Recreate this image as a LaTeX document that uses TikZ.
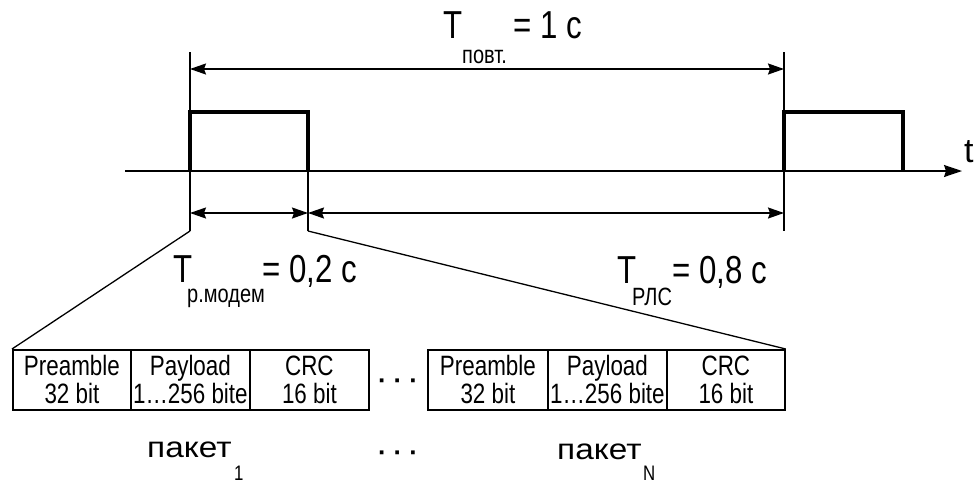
\documentclass[tikz,border=0pt]{standalone}
\usepackage{fontspec}
\setmainfont{Liberation Sans}[FakeStretch=0.8]
\newfontfamily\plainff{Liberation Sans}
\newfontfamily\wideff{Liberation Sans}[FakeStretch=1.15]
\usetikzlibrary{arrows.meta}
\begin{document}
\begin{tikzpicture}[x=1pt,y=-1pt,
  thinl/.style={line width=1.3pt},
  pulse/.style={line width=3.2pt, line join=miter},
  dimarr/.style={line width=1.6pt, {Stealth[length=16pt,width=11pt,inset=2pt]}-{Stealth[length=16pt,width=11pt,inset=2pt]}},
  cell/.style={draw, line width=1.8pt, minimum height=60pt, inner sep=0pt, align=center, font=\fontsize{28}{28}\selectfont, anchor=north west},
  big/.style={inner sep=0pt, anchor=base west, font=\fontsize{39}{40}\selectfont},
  sublab/.style={inner sep=0pt, anchor=base west, font=\fontsize{25}{26}\selectfont},
  pak/.style={inner sep=0pt, anchor=base west, font=\wideff\fontsize{29}{30}\selectfont},
  pakidx/.style={inner sep=0pt, anchor=base west, font=\fontsize{21}{22}\selectfont},
  dotsl/.style={inner sep=0pt, font=\plainff\bfseries\fontsize{26}{26}\selectfont},
]
\useasboundingbox (0,0) rectangle (976,483);

% coordinates
\coordinate (ax0) at (125,171);
\coordinate (ax1) at (962,171);
\coordinate (e1t) at (190,52);
\coordinate (e1b) at (190,231);
\coordinate (e2b) at (308,231);
\coordinate (e3t) at (784,52);
\coordinate (e3b) at (784,231);
\coordinate (p1a) at (190,171);
\coordinate (p1b) at (190,112);
\coordinate (p1c) at (308,112);
\coordinate (p1d) at (308,171);
\coordinate (p2a) at (784,171);
\coordinate (p2b) at (784,112);
\coordinate (p2c) at (903,112);
\coordinate (p2d) at (903,171);
\coordinate (d0a) at (190,69);
\coordinate (d0b) at (784,69);
\coordinate (d1a) at (190,213);
\coordinate (d1b) at (308,213);
\coordinate (d2a) at (308,213);
\coordinate (d2b) at (784,213);

% axis
\draw[line width=1.5pt, -{Stealth[length=18pt,width=12pt,inset=2pt]}] (ax0) -- (ax1);
\node[font=\plainff\fontsize{34}{34}\selectfont, anchor=base west, inner sep=0pt] (tlab) at (964,162) {t};

% extension lines
\draw[thinl] (e1t) -- (e1b);
\draw[thinl] (e3t) -- (e3b);
\draw[thinl] (p1d) -- (e2b);

% pulses
\draw[pulse] (p1a) -- (p1b) -- (p1c) -- (p1d);
\draw[pulse] (p2a) -- (p2b) -- (p2c) -- (p2d);

% dimension arrows
\draw[dimarr] (d0a) -- (d0b);
\draw[dimarr] (d1a) -- (d1b);
\draw[dimarr] (d2a) -- (d2b);

% labels
\node[big] (Tp) at (443,38) {T};
\node[sublab] (Tps) at (462,63) {повт.};
\node[big] (Tpv) at (513,38) {= 1 с};

\node[big] (Tm) at (173,282) {T};
\node[sublab] (Tms) at (187,302) {р.модем};
\node[big] (Tmv) at (262,282) {= 0,2 с};

\node[big] (Tr) at (617,283) {T};
\node[sublab] (Trs) at (632,305) {РЛС};
\node[big] (Trv) at (672,283) {= 0,8 с};

% packet cells
\node[cell, minimum width=118pt] (c1) at (12,349) {Preamble\\32 bit};
\node[cell, minimum width=119pt] (c2) at (130,349) {Payload\\1…256 bite};
\node[cell, minimum width=119pt] (c3) at (249,349) {CRC\\16 bit};
\node[cell, minimum width=120pt] (c4) at (427,349) {Preamble\\32 bit};
\node[cell, minimum width=119pt] (c5) at (547,349) {Payload\\1…256 bite};
\node[cell, minimum width=118pt] (c6) at (666,349) {CRC\\16 bit};

% zoom lines
\draw[thinl] (e1b) -- (c1.north west);
\draw[thinl] (e2b) -- (c6.north east);

% dots
\node[dotsl] (dots1) at (398,384) {·\hspace{7pt}·\hspace{7pt}·};
\node[dotsl] (dots2) at (398,456) {·\hspace{7pt}·\hspace{7pt}·};

% packet names
\node[pak] (pk1) at (147,457) {пакет};
\node[pakidx] (pk1i) at (234,480) {1};
\node[pak] (pkN) at (557,459) {пакет};
\node[pakidx] (pkNi) at (643,480) {N};
\end{tikzpicture}
\end{document}
